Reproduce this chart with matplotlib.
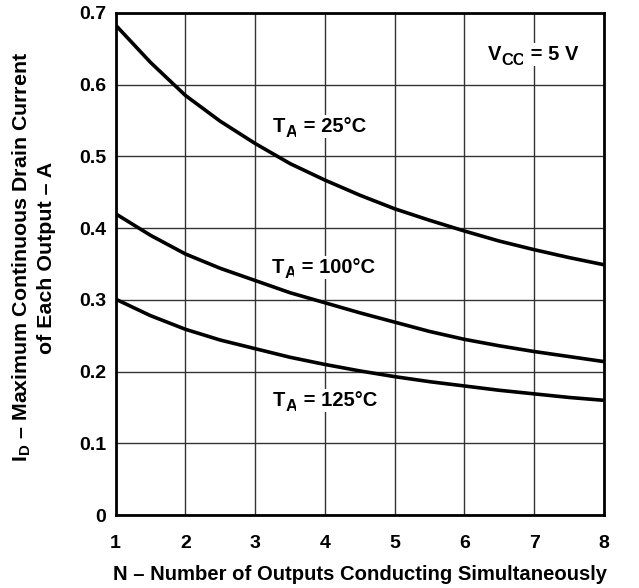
import numpy as np
import matplotlib
matplotlib.use("Agg")
import matplotlib.pyplot as plt

plt.rcParams['font.family'] = ['Liberation Sans', 'DejaVu Sans']
plt.rcParams['font.weight'] = 'bold'
plt.rcParams['mathtext.fontset'] = 'custom'
plt.rcParams['mathtext.rm'] = 'Liberation Sans:bold'
plt.rcParams['mathtext.it'] = 'Liberation Sans:bold'
plt.rcParams['mathtext.bf'] = 'Liberation Sans:bold'

# number of outputs conducting
n_outputs = [1, 1.5, 2, 2.5, 3, 3.5, 4, 4.5, 5, 5.5, 6, 6.5, 7, 7.5, 8]

# max continuous drain current per output (A)
id_25c = [0.683, 0.631, 0.585, 0.549, 0.518, 0.490, 0.467, 0.446, 0.427,
          0.411, 0.396, 0.382, 0.370, 0.359, 0.349]
id_100c = [0.420, 0.390, 0.364, 0.344, 0.327, 0.310, 0.296, 0.282, 0.269,
           0.256, 0.245, 0.236, 0.228, 0.221, 0.214]
id_125c = [0.301, 0.278, 0.259, 0.244, 0.232, 0.220, 0.210, 0.201, 0.193,
           0.186, 0.180, 0.174, 0.169, 0.164, 0.160]

x_ticks = [1, 2, 3, 4, 5, 6, 7, 8]
y_ticks = [0, 0.1, 0.2, 0.3, 0.4, 0.5, 0.6, 0.7]
y_ticklabels = ['0', '0.1', '0.2', '0.3', '0.4', '0.5', '0.6', '0.7']

fig = plt.figure(figsize=(6.39, 5.88), dpi=100)
ax = fig.add_axes([0.181, 0.124, 0.764, 0.854])

for curve in (id_25c, id_100c, id_125c):
    ax.plot(n_outputs, curve, color='black', lw=2.6, solid_capstyle='butt', zorder=3)

ax.set_xlim(1, 8)
ax.set_ylim(0, 0.7)
ax.set_xticks(x_ticks)
ax.set_yticks(y_ticks)
ax.set_yticklabels(y_ticklabels)
ax.tick_params(length=0, labelsize=14)
ax.tick_params(axis='x', pad=14)
ax.tick_params(axis='y', pad=7)
ax.grid(True, color='#333333', lw=1.0)
for s in ax.spines.values():
    s.set_linewidth(2.0)

ax.set_xlabel('N – Number of Outputs Conducting Simultaneously',
              fontsize=14.6, fontweight='bold', labelpad=10)
ax.set_ylabel('$\\mathregular{I_D}$ – Maximum Continuous Drain Current\nof Each Output – A',
              fontsize=15.4, fontweight='bold', linespacing=1.3)
ax.yaxis.set_label_coords(-0.122, 0.513)

box = dict(facecolor='white', edgecolor='none', pad=1.5)


def sub_label(x, y, main, sub, rest, fs=14.5):
    # main letter, then bigger-than-mathtext subscript, then the rest
    t1 = ax.text(x, y, main, ha='left', va='baseline', fontsize=fs,
                 fontweight='bold', bbox=box, zorder=4)
    t2 = ax.annotate(sub, xy=(1, 0), xycoords=t1, xytext=(0.3, -3.0),
                     textcoords='offset points', ha='left', va='bottom',
                     fontsize=fs * 0.82, fontweight='bold', bbox=box, zorder=4)
    ax.annotate(rest, xy=(1, 0), xycoords=(t2, t1), xytext=(0, 0),
                textcoords='offset points', ha='left', va='bottom',
                fontsize=fs, fontweight='bold', bbox=box, zorder=4)


sub_label(6.335, 0.634, 'V', 'CC', ' = 5 V')
sub_label(3.256, 0.534, 'T', 'A', ' = 25°C')
sub_label(3.238, 0.338, 'T', 'A', ' = 100°C')
sub_label(3.256, 0.152, 'T', 'A', ' = 125°C')

fig.savefig('out.png', dpi=100, facecolor='white')
